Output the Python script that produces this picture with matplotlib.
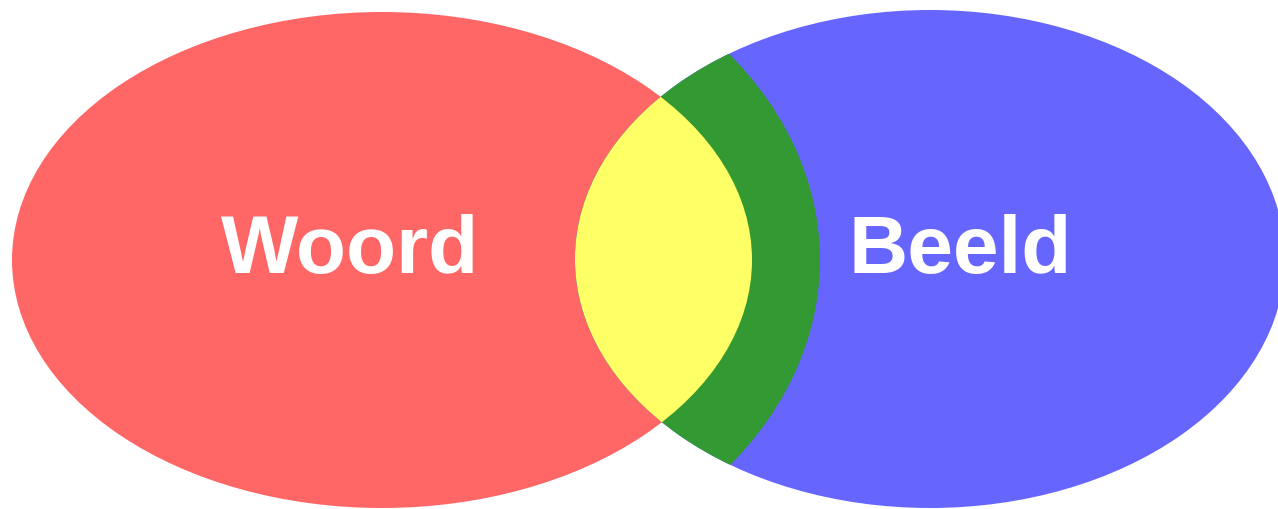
import matplotlib.pyplot as plt
from matplotlib.patches import Ellipse

labels = ["Woord", "Beeld"]
colors = ["#ff6666", "#6666ff"]
overlap_color = "#ffff66"
band_color = "#339933"

fig = plt.figure(figsize=(12.78, 5.09), dpi=100)
ax = fig.add_axes([0, 0, 1, 1])
ax.set_xlim(0, 1278)
ax.set_ylim(509, 0)
ax.axis("off")

# two main ellipses (pixel coords)
left = Ellipse((382, 260), 740, 496, color=colors[0], lw=0)
right = Ellipse((930, 259), 710, 498, color=colors[1], lw=0)
ax.add_patch(left)
ax.add_patch(right)

# green band inside the right ellipse
band = Ellipse((382, 260), 876, 676, color=band_color, lw=0)
ax.add_patch(band)
band.set_clip_path(right)

# yellow overlap
lens = Ellipse((382, 260), 740, 496, color=overlap_color, lw=0)
ax.add_patch(lens)
lens.set_clip_path(right)

ax.text(350, 273, labels[0], color="white", fontsize=59, fontweight="bold",
        family="Liberation Sans", ha="center", va="baseline")
ax.text(960, 273, labels[1], color="white", fontsize=59, fontweight="bold",
        family="Liberation Sans", ha="center", va="baseline")

fig.savefig("out.png", dpi=100)
